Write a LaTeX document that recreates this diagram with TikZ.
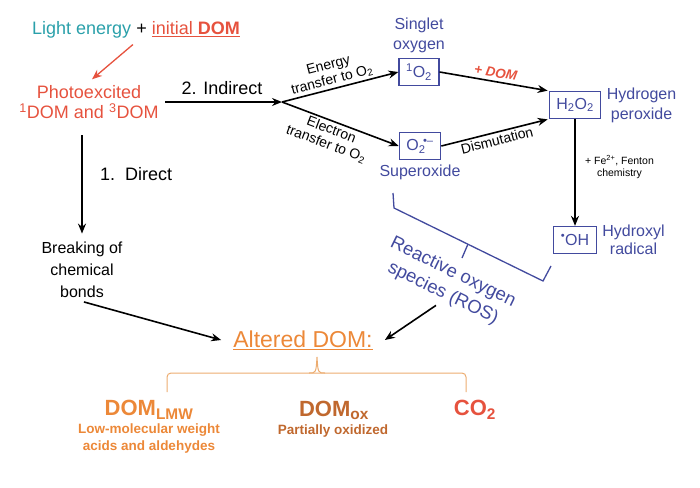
\documentclass[tikz,border=0pt]{standalone}
\usepackage{fontspec}
\setmainfont{Liberation Sans}
\usetikzlibrary{arrows.meta}
\definecolor{lightcol}{RGB}{42,160,170}
\definecolor{domred}{RGB}{230,82,62}
\definecolor{roscol}{RGB}{66,74,158}
\definecolor{altcol}{RGB}{236,136,56}
\definecolor{oxcol}{RGB}{192,104,46}
\definecolor{brcol}{RGB}{236,172,112}
\newcommand{\fsz}[2]{\fontsize{#1}{#2}\selectfont}
\begin{document}
\begin{tikzpicture}[x=1pt,y=-1pt,
  arr/.style={-{Stealth[length=10pt,width=8pt]}, line width=1.6pt},
  box/.style={draw=roscol, line width=1.3pt, text=roscol, inner xsep=7pt, minimum height=27pt, font=\fsz{16}{18}},
  lbl/.style={text=roscol, align=center, font=\fsz{16}{20}},
  small/.style={font=\fsz{14}{15}, align=center, inner sep=2pt}]
  \useasboundingbox (0,0) rectangle (700,487);
  % start and excitation
  \node[font=\fsz{18}{20}] (start) at (136,30) {\textcolor{lightcol}{Light energy} + \textcolor{domred}{\underline{initial \textbf{DOM}}}};
  \node[text=domred, align=center, font=\fsz{18}{20}] (photo) at (89,102) {Photoexcited\\\textsuperscript{1}DOM and \textsuperscript{3}DOM};
  \draw[arr, domred, line width=1.3pt, shorten <=4pt, shorten >=4pt] (start.south) -- (photo.north);
  % indirect pathway
  \coordinate (fork) at (282,102);
  \draw[arr, shorten <=3pt] (photo.east) -- node[above=3pt, font=\fsz{18}{20}] {2. Indirect} (fork);
  \node[box] (singlet) at (419,72) {\textsuperscript{1}O\textsubscript{2}};
  \node[box] (super) at (420,146) {O\textsubscript{2}\kern-2.5pt\textsuperscript{\textbullet–}};
  \node[box] (h2o2) at (575,105) {H\textsubscript{2}O\textsubscript{2}};
  \node[box] (oh) at (575,240) {\textsuperscript{\textbullet}OH};
  \node[lbl, above=1pt] (slbl) at (singlet.north) {Singlet\\oxygen};
  \node[lbl, below=1pt] (suplbl) at (super.south) {Superoxide};
  \node[lbl, right=2pt] (hlbl) at (h2o2.east) {Hydrogen\\peroxide};
  \node[lbl, right=2pt, font=\fsz{16}{18}] (ohlbl) at (oh.east) {Hydroxyl\\radical};
  \draw[arr] (fork) -- node[sloped, above, pos=0.45, small] {Energy\\transfer to O\textsubscript{2}} (singlet.west);
  \draw[arr] (fork) -- node[sloped, below, pos=0.45, small] {Electron\\transfer to O\textsubscript{2}} (super.west);
  \draw[arr, shorten >=1pt] (singlet.east) -- node[sloped, above, text=domred, font=\fsz{13.5}{14}\bfseries\itshape] {+ DOM} (h2o2.north west);
  \draw[arr, shorten >=1pt] (super.east) -- node[sloped, below, small] {Dismutation} (h2o2.south west);
  \draw[arr] (h2o2.south) -- node[right=6pt, pos=0.45, font=\fsz{10.5}{12}, align=center] {+ Fe\textsuperscript{2+}, Fenton\\chemistry} (oh.north);
  % ROS bracket
  \draw[roscol, line width=1.3pt] (393,193) -- (394,208) -- (543,281) -- (551,266);
  \draw[roscol, line width=1.3pt] (468,244) -- (462,258);
  \node[text=roscol, rotate=-26, align=center, font=\fsz{18.5}{23}] (ros) at (448,283) {Reactive oxygen\\species (ROS)};
  % direct pathway
  \node[align=center, font=\fsz{16}{22}] (breaking) at (82,270) {Breaking of\\chemical\\bonds};
  \draw[arr, shorten <=13pt, shorten >=5pt] (photo.south -| breaking.north) -- node[right=14pt, pos=0.45, font=\fsz{18}{20}] {1.\ \ Direct} (breaking.north);
  % altered DOM
  \node[text=altcol, font=\fsz{23}{25}, inner xsep=12pt] (altered) at (303,340) {\underline{Altered DOM:}};
  \draw[arr, shorten <=2pt] (breaking.south) -- (altered.west);
  \draw[arr, shorten <=2pt] (ros.south) -- (altered.east);
  \draw[brcol, line width=1pt, rounded corners=4pt] (167,392) -- (167,373) -- (466,373) -- (466,392);
  \draw[brcol, line width=1pt] (309,373) .. controls (316,373) .. (317,357) .. controls (318,373) .. (325,373);
  \node[text=altcol, font=\fsz{22}{24}\bfseries] (lmw) at (149,410) {DOM\textsubscript{LMW}};
  \node[text=altcol, font=\fsz{13.5}{17}\bfseries, align=center] (lmwtxt) at (149,439) {Low-molecular weight\\acids and aldehydes};
  \node[text=oxcol, font=\fsz{22}{24}\bfseries] (ox) at (334,410) {DOM\textsubscript{ox}};
  \node[text=oxcol, font=\fsz{13.5}{17}\bfseries] (oxtxt) at (333,431) {Partially oxidized};
  \node[text=domred, font=\fsz{22}{24}\bfseries] (co2) at (475,410) {CO\textsubscript{2}};
\end{tikzpicture}
\end{document}
